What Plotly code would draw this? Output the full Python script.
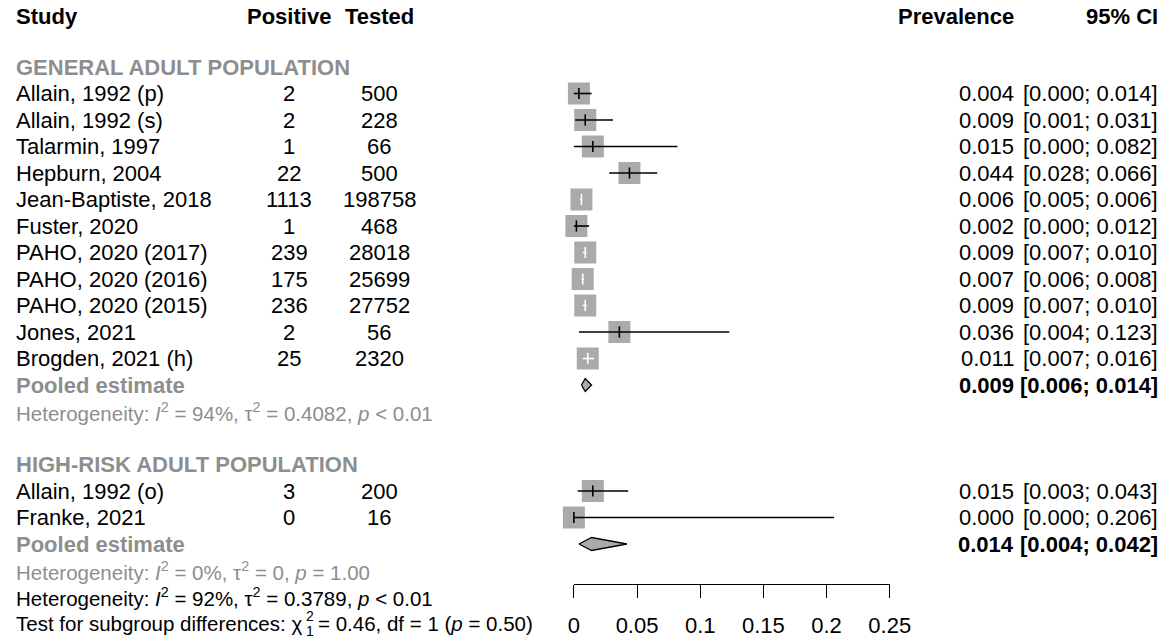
import plotly.graph_objects as go

# ---- data ----
group1_label = "GENERAL ADULT POPULATION"
group1_studies = [
    "Allain, 1992 (p)", "Allain, 1992 (s)", "Talarmin, 1997", "Hepburn, 2004",
    "Jean-Baptiste, 2018", "Fuster, 2020", "PAHO, 2020 (2017)", "PAHO, 2020 (2016)",
    "PAHO, 2020 (2015)", "Jones, 2021", "Brogden, 2021 (h)",
]
group1_positive = [2, 2, 1, 22, 1113, 1, 239, 175, 236, 2, 25]
group1_tested = [500, 228, 66, 500, 198758, 468, 28018, 25699, 27752, 56, 2320]
group1_prev = [0.004, 0.009, 0.015, 0.044, 0.006, 0.002, 0.009, 0.007, 0.009, 0.036, 0.011]
group1_lo = [0.000, 0.001, 0.000, 0.028, 0.005, 0.000, 0.007, 0.006, 0.007, 0.004, 0.007]
group1_hi = [0.014, 0.031, 0.082, 0.066, 0.006, 0.012, 0.010, 0.008, 0.010, 0.123, 0.016]
group1_pooled = [0.009, 0.006, 0.014]
group1_het = "Heterogeneity: <i>I</i><sup>2</sup> = 94%, τ<sup>2</sup> = 0.4082, <i>p</i> &lt; 0.01"

group2_label = "HIGH-RISK ADULT POPULATION"
group2_studies = ["Allain, 1992 (o)", "Franke, 2021"]
group2_positive = [3, 0]
group2_tested = [200, 16]
group2_prev = [0.015, 0.000]
group2_lo = [0.003, 0.000]
group2_hi = [0.043, 0.206]
group2_pooled = [0.014, 0.004, 0.042]
group2_het = "Heterogeneity: <i>I</i><sup>2</sup> = 0%, τ<sup>2</sup> = 0, <i>p</i> = 1.00"

overall_het = "Heterogeneity: <i>I</i><sup>2</sup> = 92%, τ<sup>2</sup> = 0.3789, <i>p</i> &lt; 0.01"
test_text = ["Test for subgroup differences: χ", "2", "1", "= 0.46, df = 1 (<i>p</i> = 0.50)"]

tick_vals = [0, 0.05, 0.1, 0.15, 0.2, 0.25]
tick_text = ["0", "0.05", "0.1", "0.15", "0.2", "0.25"]

# ---- layout constants (screen pixels of the page photo) ----
W, H = 1170, 642
# the plot area lands at this offset/width on the photographed page
OFF_X, W_EFF, OFF_Y = 16.6, 1140.0, 8
X0_PX, PX_PER_UNIT = 575, 1260.0
ROW0_PX, ROW_PX = 14, 26.5
SQ = 22
FONT = "Liberation Sans, Arial, sans-serif"
FS = 22
FS_HET = 20.5
GRAY_TXT = "#8e8e8e"
BOX = "#aaaaaa"

x_min = -(X0_PX - OFF_X) / PX_PER_UNIT
x_max = x_min + W_EFF / PX_PER_UNIT
y_max = (ROW0_PX - OFF_Y) / ROW_PX
y_min = y_max - H / ROW_PX
half_sq = SQ / 2 / PX_PER_UNIT

COL_STUDY, COL_POS, COL_TEST, COL_PREV, COL_CI = OFF_X, 291, 381, 1016, 1160
HEADER_ROW = 0.08  # nudged down a touch so the caps are not clipped


def paper_x(px):
    return (px - OFF_X) / W_EFF


annotations = []


def txt(text, px, row, anchor="left", color="black", bold=False, size=FS):
    if bold:
        text = "<b>" + text + "</b>"
    annotations.append(dict(
        text=text, x=paper_x(px), xref="paper", y=-row, yref="y",
        xanchor=anchor, yanchor="middle", showarrow=False,
        font=dict(family=FONT, size=size, color=color),
    ))


# header row
txt("Study", COL_STUDY, HEADER_ROW, bold=True)
txt("Positive", COL_POS, HEADER_ROW, "center", bold=True)
txt("Tested", COL_TEST, HEADER_ROW, "center", bold=True)
txt("Prevalence", COL_PREV, HEADER_ROW, "right", bold=True)
txt("95% CI", COL_CI, HEADER_ROW, "right", bold=True)

sq_x, sq_y = [], []
lines = {"black": ([], []), "white": ([], [])}
ticks = {"black": ([], []), "white": ([], [])}
diamonds = []

row = 2
groups = [
    (group1_label, group1_studies, group1_positive, group1_tested,
     group1_prev, group1_lo, group1_hi, group1_pooled, group1_het),
    (group2_label, group2_studies, group2_positive, group2_tested,
     group2_prev, group2_lo, group2_hi, group2_pooled, group2_het),
]
for label, studies, pos, tested, prev, lo, hi, pooled, het in groups:
    txt(label, COL_STUDY, row, color=GRAY_TXT, bold=True)
    row += 1
    for name, p, n, e, l, h in zip(studies, pos, tested, prev, lo, hi):
        txt(name, COL_STUDY, row)
        txt(str(p), COL_POS, row, "center")
        txt(str(n), COL_TEST, row, "center")
        txt(f"{e:.3f}", COL_PREV, row, "right")
        txt(f"[{l:.3f}; {h:.3f}]", COL_CI, row, "right")
        sq_x.append(e)
        sq_y.append(-row)
        # CI drawn white when it fits inside the box
        inside = (l >= e - half_sq) and (h <= e + half_sq)
        c = "white" if inside else "black"
        lines[c][0].extend([l, h, None])
        lines[c][1].extend([-row, -row, None])
        ticks[c][0].append(e)
        ticks[c][1].append(-row)
        row += 1
    txt("Pooled estimate", COL_STUDY, row, color=GRAY_TXT, bold=True)
    e, l, h = pooled
    txt(f"{e:.3f}", COL_PREV, row, "right", bold=True)
    txt(f"[{l:.3f}; {h:.3f}]", COL_CI, row, "right", bold=True)
    diamonds.append((e, l, h, -row))
    row += 1
    txt(het, COL_STUDY, row, color=GRAY_TXT, size=FS_HET)
    row += 2

row -= 1
txt(overall_het, COL_STUDY, row, size=FS_HET)
row += 1
txt(test_text[0], COL_STUDY, row, size=FS_HET)
txt(test_text[1], COL_STUDY + 289, row - 0.27, size=14)
txt(test_text[2], COL_STUDY + 289, row + 0.3, size=14)
txt(test_text[3], COL_STUDY + 301, row, size=FS_HET)

fig = go.Figure()

fig.add_trace(go.Scatter(
    x=sq_x, y=sq_y, mode="markers", hoverinfo="skip",
    marker=dict(symbol="square", size=SQ, color=BOX, line=dict(width=0)),
))
for c in ("black", "white"):
    fig.add_trace(go.Scatter(
        x=lines[c][0], y=lines[c][1], mode="lines", hoverinfo="skip",
        line=dict(color=c, width=1.6),
    ))
    fig.add_trace(go.Scatter(
        x=ticks[c][0], y=ticks[c][1], mode="markers", hoverinfo="skip",
        marker=dict(symbol="line-ns", size=8, line=dict(width=1.6, color=c)),
    ))

dh = 6.5 / ROW_PX
for e, l, h, y in diamonds:
    fig.add_trace(go.Scatter(
        x=[l, e, h, e, l], y=[y, y + dh, y, y - dh, y],
        mode="lines", fill="toself", fillcolor=BOX, hoverinfo="skip",
        line=dict(color="black", width=1.3),
    ))

# invisible trace that carries the visible prevalence axis
fig.add_trace(go.Scatter(
    x=[tick_vals[0], tick_vals[-1]], y=[y_min - 5, y_min - 5],
    xaxis="x2", yaxis="y", mode="markers", hoverinfo="skip",
    marker=dict(opacity=0),
))

axis_px = 584 - OFF_Y
fig.update_layout(
    width=W, height=H, autosize=False,
    margin=dict(l=0, r=0, t=0, b=0, pad=0),
    paper_bgcolor="white", plot_bgcolor="rgba(0,0,0,0)",
    showlegend=False,
    xaxis=dict(range=[x_min, x_max], visible=False, domain=[0, 1]),
    yaxis=dict(range=[y_min, y_max], visible=False, domain=[0, 1]),
    xaxis2=dict(
        domain=[paper_x(X0_PX), paper_x(X0_PX + tick_vals[-1] * PX_PER_UNIT)],
        range=[tick_vals[0], tick_vals[-1]],
        anchor="free", position=(H - axis_px) / H,
        showline=True, linecolor="black", linewidth=1.3,
        ticks="outside", ticklen=13, tickwidth=1.3, tickcolor="black",
        tickvals=tick_vals, ticktext=tick_text, showgrid=False, zeroline=False,
        tickfont=dict(family=FONT, size=FS, color="black"),
        ticklabelstandoff=8,
    ),
    annotations=annotations,
)

fig.write_html("out.html")
